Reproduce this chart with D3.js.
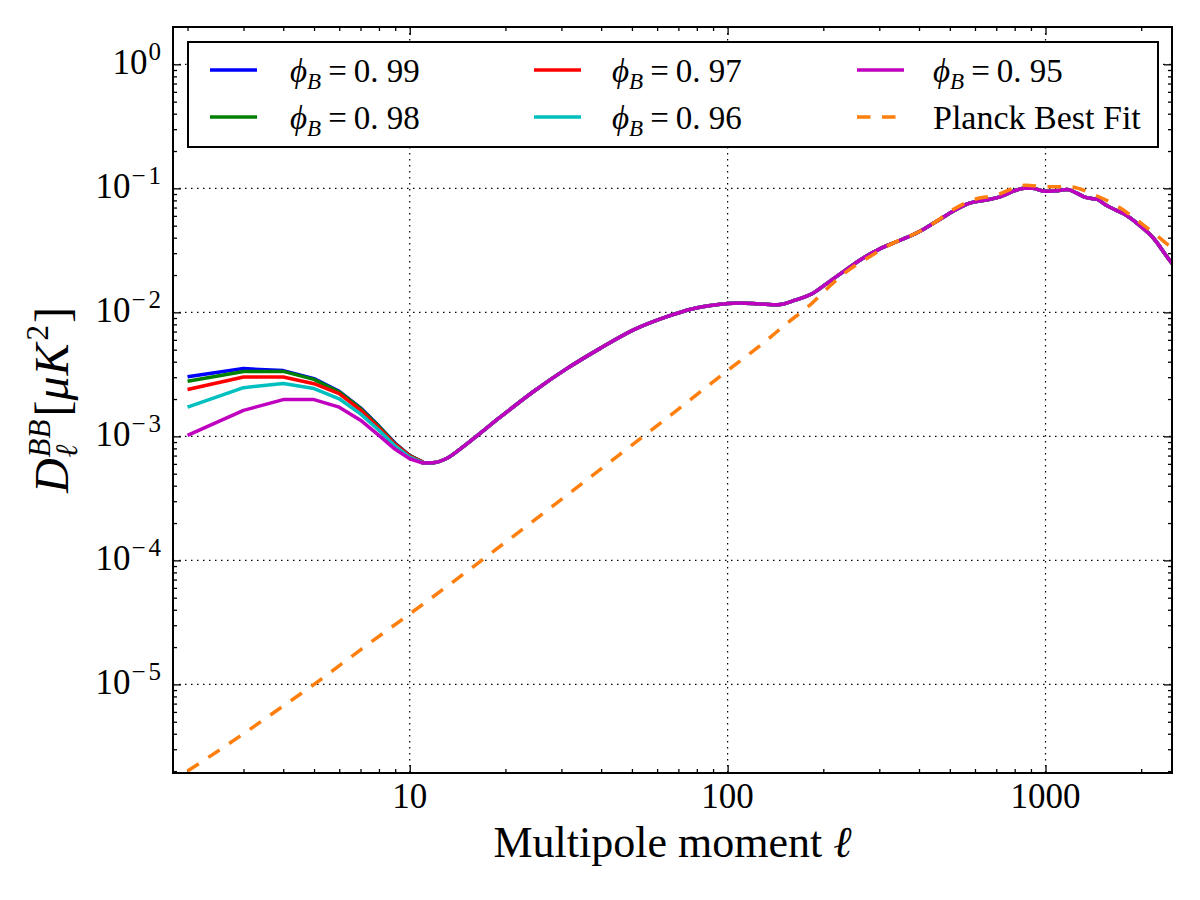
<!DOCTYPE html>
<html>
<head>
<meta charset="utf-8">
<script src="https://cdn.jsdelivr.net/npm/d3@7"></script>
<style>
  html, body { margin: 0; padding: 0; background: #fff; }
  svg { display: block; }
  text { font-family: "Liberation Serif", "DejaVu Serif", serif; fill: #000; }
</style>
</head>
<body>
<svg id="chart" width="1200" height="900"></svg>
<script>
// ---------------- data ----------------
// low multipoles, one value per integer ell, per series
const ellLow   = [2, 3, 4, 5, 6, 7, 8, 9, 10, 11];
const phi099   = [3.03e-3, 3.52e-3, 3.39e-3, 2.92e-3, 2.31e-3, 1.70e-3, 1.21e-3, 8.8e-4, 7.0e-4, 6.2e-4];
const phi098   = [2.78e-3, 3.34e-3, 3.34e-3, 2.88e-3, 2.28e-3, 1.68e-3, 1.20e-3, 8.7e-4, 7.0e-4, 6.2e-4];
const phi097   = [2.39e-3, 3.01e-3, 3.01e-3, 2.66e-3, 2.21e-3, 1.63e-3, 1.17e-3, 8.6e-4, 6.95e-4, 6.2e-4];
const phi096   = [1.72e-3, 2.47e-3, 2.67e-3, 2.43e-3, 2.01e-3, 1.52e-3, 1.12e-3, 8.35e-4, 6.8e-4, 6.15e-4];
const phi095   = [1.02e-3, 1.62e-3, 1.98e-3, 1.98e-3, 1.72e-3, 1.35e-3, 1.02e-3, 7.86e-4, 6.6e-4, 6.1e-4];
// higher multipoles, where all five series coincide
const ellHigh  = [11, 12, 13, 14.4, 16.2, 19.2, 24.4, 31.1, 39.6, 50.4, 64.1, 77.8, 92, 100, 109, 125.6, 143.7,
                  164, 185, 209, 235, 265.6, 299, 346, 400, 452, 509, 574, 648, 723, 786, 856, 908,
                  1000, 1075, 1169, 1259, 1337, 1456, 1547, 1665, 1790, 1972, 2173, 2455, 2600];
const dHigh    = [6.1e-4, 6.15e-4, 6.6e-4, 7.9e-4, 1.0e-3, 1.42e-3, 2.28e-3, 3.5e-3, 5.1e-3, 7.2e-3, 9.2e-3, 1.07e-2, 1.15e-2, 1.18e-2, 1.19e-2, 1.17e-2, 1.15e-2,
                  1.26e-2, 1.42e-2, 1.77e-2, 2.19e-2, 2.72e-2, 3.22e-2, 3.78e-2, 4.47e-2, 5.38e-2, 6.47e-2, 7.57e-2, 8.05e-2, 8.57e-2, 9.4e-2, 1.0e-1, 1.0e-1,
                  9.46e-2, 9.55e-2, 9.8e-2, 9.1e-2, 8.45e-2, 8.15e-2, 7.33e-2, 6.68e-2, 6.1e-2, 5.06e-2, 4.03e-2, 2.64e-2, 2.2e-2];
// Planck best fit
const planckEll = [2, 3, 4, 5, 7, 10, 15, 20, 30, 50, 70, 100, 130, 154, 180.5, 203.7, 235, 279, 330, 400,
                   452, 509, 589, 697, 865, 1000, 1184, 1434, 1695, 2006, 2432, 2600];
const planckD   = [2.0e-6, 4.0e-6, 6.7e-6, 1.0e-5, 1.9e-5, 3.7e-5, 8.0e-5, 1.4e-4, 3.1e-4, 8.5e-4, 1.66e-3, 3.4e-3, 5.7e-3, 8.2e-3, 1.13e-2, 1.52e-2, 2.1e-2, 2.8e-2, 3.6e-2, 4.47e-2,
                   5.38e-2, 6.68e-2, 8.05e-2, 8.8e-2, 1.06e-1, 1.03e-1, 1.03e-1, 8.8e-2, 7.1e-2, 5.2e-2, 3.49e-2, 3.0e-2];

const seriesNames  = ["0.99", "0.98", "0.97", "0.96", "0.95"];
const seriesColors = ["#0000ff", "#008000", "#ff0000", "#00bfbf", "#bf00bf"];
const planckName   = "Planck Best Fit";
const planckColor  = "#ff7f0e";

const xDomain = [1.8, 2500];
const yDomain = [1.93e-6, 2.0];
const xTickValues = [10, 100, 1000];
const xTickLabels = ["10", "100", "1000"];
const yTickValues = [1, 1e-1, 1e-2, 1e-3, 1e-4, 1e-5];
const yTickExponents = ["0", "\u22121", "\u22122", "\u22123", "\u22124", "\u22125"];
const xLabel = "Multipole moment ";

// ---------------- layout ----------------
const svg = d3.select("#chart");
const M = { left: 173, top: 27, right: 1172, bottom: 773 };
const W = M.right - M.left, H = M.bottom - M.top;

const x = d3.scaleLog().domain(xDomain).range([M.left, M.right]);
const y = d3.scaleLog().domain(yDomain).range([M.bottom, M.top]);

svg.append("rect").attr("width", 1200).attr("height", 900).attr("fill", "#fff");

svg.append("defs").append("clipPath").attr("id", "clip")
  .append("rect").attr("x", M.left).attr("y", M.top).attr("width", W).attr("height", H);

// grid
const grid = svg.append("g").attr("stroke", "#000").attr("stroke-width", 1.2)
  .attr("stroke-dasharray", "1.5,4.5");
grid.selectAll("line.gx").data(xTickValues).join("line")
  .attr("x1", d => x(d)).attr("x2", d => x(d)).attr("y1", M.top).attr("y2", M.bottom);
grid.selectAll("line.gy").data(yTickValues).join("line")
  .attr("y1", d => y(d)).attr("y2", d => y(d)).attr("x1", M.left).attr("x2", M.right);

// minor tick values
function minors(dom) {
  const out = [];
  for (let e = -7; e <= 4; e++) for (let m = 2; m <= 9; m++) {
    const v = m * Math.pow(10, e);
    if (v > dom[0] && v < dom[1]) out.push(v);
  }
  return out;
}
const xMinor = minors(xDomain), yMinor = minors(yDomain);

function styleAxis(g) {
  g.select(".domain").remove();
  g.selectAll("line").attr("stroke", "#000").attr("stroke-width", 1.3);
  g.selectAll("text").remove();
}
const majLen = 8, minLen = 4;
svg.append("g").attr("transform", `translate(0,${M.bottom})`)
  .call(d3.axisTop(x).tickValues(xTickValues).tickSize(majLen).tickFormat("")).call(styleAxis);
svg.append("g").attr("transform", `translate(0,${M.bottom})`)
  .call(d3.axisTop(x).tickValues(xMinor).tickSize(minLen).tickFormat("")).call(styleAxis);
svg.append("g").attr("transform", `translate(0,${M.top})`)
  .call(d3.axisBottom(x).tickValues(xTickValues).tickSize(majLen).tickFormat("")).call(styleAxis);
svg.append("g").attr("transform", `translate(0,${M.top})`)
  .call(d3.axisBottom(x).tickValues(xMinor).tickSize(minLen).tickFormat("")).call(styleAxis);
svg.append("g").attr("transform", `translate(${M.left},0)`)
  .call(d3.axisRight(y).tickValues(yTickValues).tickSize(majLen).tickFormat("")).call(styleAxis);
svg.append("g").attr("transform", `translate(${M.left},0)`)
  .call(d3.axisRight(y).tickValues(yMinor).tickSize(minLen).tickFormat("")).call(styleAxis);
svg.append("g").attr("transform", `translate(${M.right},0)`)
  .call(d3.axisLeft(y).tickValues(yTickValues).tickSize(majLen).tickFormat("")).call(styleAxis);
svg.append("g").attr("transform", `translate(${M.right},0)`)
  .call(d3.axisLeft(y).tickValues(yMinor).tickSize(minLen).tickFormat("")).call(styleAxis);

// tick labels
const xt = svg.append("g");
xTickValues.forEach((v, i) => {
  xt.append("text").attr("x", x(v)).attr("y", 808).attr("text-anchor", "middle")
    .attr("font-size", 35).text(xTickLabels[i]);
});
const yt = svg.append("g");
yTickValues.forEach((v, i) => {
  const t = yt.append("text").attr("x", 161).attr("y", y(v) + 10).attr("text-anchor", "end")
    .attr("font-size", 35);
  t.append("tspan").text("10");
  const e = yTickExponents[i];
  if (e.length > 1) {
    t.append("tspan").attr("font-size", 25).attr("dy", -14).attr("dx", 1).text(e[0]);
    t.append("tspan").attr("font-size", 25).attr("dx", 3).text(e.slice(1));
  } else {
    t.append("tspan").attr("font-size", 25).attr("dy", -14).attr("dx", 1).text(e);
  }
});

// lines: straight segments between integer multipoles, smooth above
const lineLow = d3.line().x(d => x(d[0])).y(d => y(d[1])).curve(d3.curveLinear);
const lineHigh = d3.line().x(d => x(d[0])).y(d => y(d[1])).curve(d3.curveMonotoneX);
const plotG = svg.append("g").attr("clip-path", "url(#clip)");
const lowSeries = [phi099, phi098, phi097, phi096, phi095];
const highPts = ellHigh.map((l, j) => [l, dHigh[j]]);
lowSeries.forEach((arr, i) => {
  const lowPts = ellLow.map((l, j) => [l, arr[j]]);
  const d = lineLow(lowPts) + lineHigh(highPts).replace(/^M/, "L");
  plotG.append("path").attr("d", d).attr("fill", "none")
    .attr("stroke", seriesColors[i]).attr("stroke-width", 3.5).attr("stroke-linejoin", "round");
});
plotG.append("path").attr("d", lineHigh(planckEll.map((l, j) => [l, planckD[j]])))
  .attr("fill", "none").attr("stroke", planckColor).attr("stroke-width", 3.5)
  .attr("stroke-dasharray", "13.5,11.5");

// frame
svg.append("rect").attr("x", M.left).attr("y", M.top).attr("width", W).attr("height", H)
  .attr("fill", "none").attr("stroke", "#000").attr("stroke-width", 2);

// legend
const leg = svg.append("g");
leg.append("rect").attr("x", 188).attr("y", 42).attr("width", 970).attr("height", 105)
  .attr("fill", "#fff").attr("stroke", "#000").attr("stroke-width", 2);
const legItems = seriesNames.map((n, i) => ({ name: n, color: seriesColors[i], dash: null }))
  .concat([{ name: planckName, color: planckColor, dash: "13.5,11.5", plain: true }]);
const colX = [210, 534, 857], rowY = [70, 117], textX = [290, 612, 933];
legItems.forEach((it, k) => {
  const c = Math.floor(k / 2), r = k % 2;
  leg.append("line").attr("x1", colX[c]).attr("x2", colX[c] + 47)
    .attr("y1", rowY[r]).attr("y2", rowY[r])
    .attr("stroke", it.color).attr("stroke-width", 3.5)
    .attr("stroke-dasharray", it.dash);
  const t = leg.append("text").attr("x", textX[c]).attr("y", rowY[r] + 12).attr("font-size", 33);
  if (it.plain) {
    t.attr("font-size", 34).text(it.name);
  } else {
    t.append("tspan").attr("font-style", "italic").text("\u03d5");
    t.append("tspan").attr("font-style", "italic").attr("font-size", 23).attr("dy", 7).text("B");
    t.append("tspan").attr("dy", -7).attr("dx", 7).text("=");
    t.append("tspan").attr("dx", 7).text("0. " + it.name.slice(2));
  }
});

// x label
const xl = svg.append("text").attr("x", (M.left + M.right) / 2).attr("y", 857)
  .attr("text-anchor", "middle").attr("font-size", 44);
xl.append("tspan").text(xLabel);
xl.append("tspan").attr("font-style", "italic").text("\u2113");

// y label (rotated, built from pieces)
const yl = svg.append("g");
const inner = yl.append("g");
let cx = 0;
function piece(str, size, dy, italic) {
  return inner.append("text").attr("x", cx).attr("y", dy).attr("font-size", size)
    .attr("font-style", italic ? "italic" : "normal").text(str);
}
const tD = piece("D", 48, 0, true);
cx += tD.node().getComputedTextLength() + 1;
const tBB = piece("BB", 31, -18, true);
const tl = piece("\u2113", 31, 9, true);
cx += Math.max(tBB.node().getComputedTextLength(), tl.node().getComputedTextLength()) + 3;
const tb1 = piece("[", 48, 0, false); cx += tb1.node().getComputedTextLength();
const tmu = piece("\u03bc", 48, 0, true); cx += tmu.node().getComputedTextLength() + 1;
const tK = piece("K", 48, 0, true); cx += tK.node().getComputedTextLength() + 3;
const t2 = piece("2", 31, -20, false); cx += t2.node().getComputedTextLength() + 2;
const tb2 = piece("]", 48, 0, false); cx += tb2.node().getComputedTextLength();
inner.attr("transform", `translate(${-cx / 2},0)`);
yl.attr("transform", `translate(68,${(M.top + M.bottom) / 2}) rotate(-90)`);
</script>
</body>
</html>
